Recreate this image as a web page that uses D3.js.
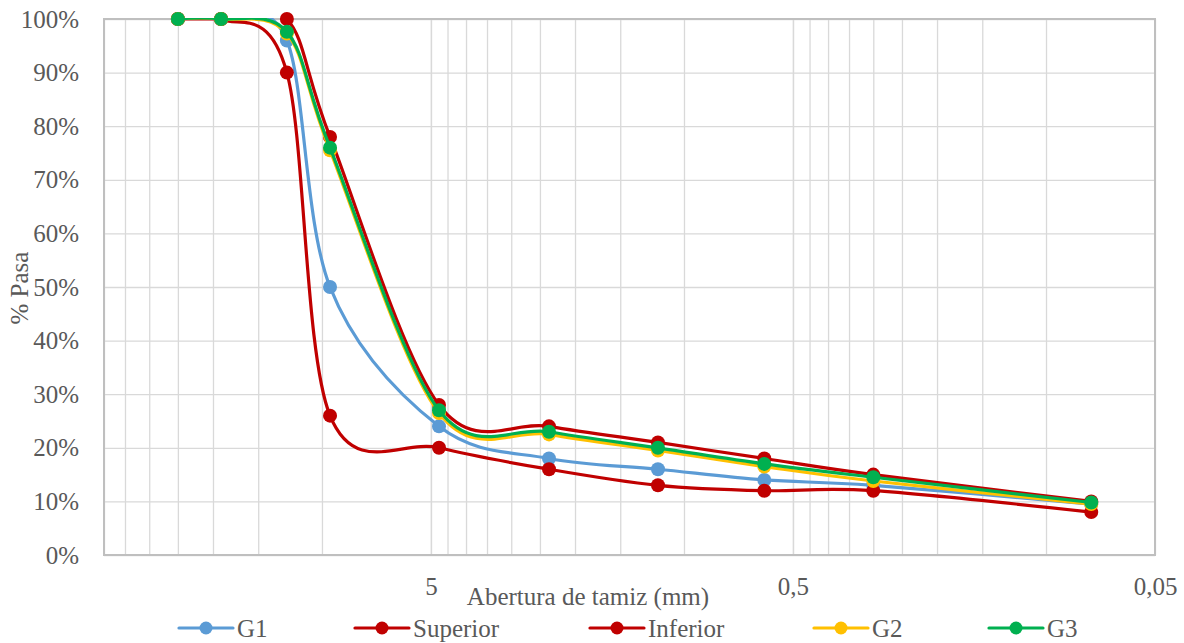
<!DOCTYPE html>
<html>
<head>
<meta charset="utf-8">
<script src="https://cdn.jsdelivr.net/npm/d3@7/dist/d3.min.js"></script>
<style>
body { margin: 0; background: #fff; }
svg { display: block; }
.grid line { stroke: #d9d9d9; stroke-width: 1.3; }
.grid path { display: none; }
.axis path, .axis line { display: none; }
</style>
</head>
<body>
<div id="chart"></div>
<script>
// tamices (mm) y % que pasa
var sizes = [25, 19, 12.5, 9.5, 4.75, 2.36, 1.18, 0.6, 0.3, 0.075];
var g1 = [100, 100, 96, 50, 24, 18, 16, 14, 13, 9.5];
var superior = [100, 100, 100, 78, 28, 24, 21, 18, 15, 10];
var inferior = [100, 100, 90, 26, 20, 16, 13, 12, 12, 8];
var g2 = [100, 100, 97.3, 75.5, 26.5, 22.5, 19.5, 16.5, 13.8, 9.5];
var g3 = [100, 100, 97.6, 76, 27, 23, 20, 17, 14.5, 9.8];

var seriesNames = ["G1", "Superior", "Inferior", "G2", "G3"];
var seriesColors = ["#5b9bd5", "#c00000", "#c00000", "#ffc000", "#00b050"];
var xTicks = [5, 0.5, 0.05];
var yTicks = [0, 10, 20, 30, 40, 50, 60, 70, 80, 90, 100];

var FONT = "Liberation Serif, Times New Roman, serif";

var makeChart = function() {

	var W = 1184, H = 643;
	var plot = {left: 104, right: 1155, top: 19, bottom: 555};

	var svg = d3.select("#chart").append("svg")
		.attr("width", W)
		.attr("height", H)
		.attr("font-family", FONT);

	svg.append("rect").attr("width", W).attr("height", H).attr("fill", "#fff");

	var x = d3.scaleLog().domain([40, 0.05]).range([plot.left, plot.right]);
	var y = d3.scaleLinear().domain([0, 100]).range([plot.bottom, plot.top]);

	// minor gridlines of the log axis (multiples of each decade start)
	var gridVals = [];
	[0.05, 0.5, 5].forEach(function(base) {
		for (var k = 1; k <= 10; ++k) {
			var v = base * k;
			if (v <= 40) gridVals.push(v);
		}
	});

	svg.append("g")
	.attr("class", "grid")
	.attr("transform", "translate(0," + plot.bottom + ")")
	.call(d3.axisBottom(x)
		.tickValues(gridVals)
		.tickSize(-(plot.bottom - plot.top))
		.tickFormat("")
	);

	svg.append("g")
	.attr("class", "grid")
	.attr("transform", "translate(" + plot.left + ",0)")
	.call(d3.axisLeft(y)
		.tickValues(yTicks)
		.tickSize(-(plot.right - plot.left))
		.tickFormat("")
	);

	// plot frame
	svg.append("rect")
	.attr("x", plot.left)
	.attr("y", plot.top)
	.attr("width", plot.right - plot.left)
	.attr("height", plot.bottom - plot.top)
	.attr("fill", "none")
	.attr("stroke", "#bfbfbf")
	.attr("stroke-width", 2);

	var locale = d3.formatLocale({decimal: ",", thousands: ".", grouping: [3], currency: ["", ""]});
	var fmt = locale.format("~g");

	var xAxis = svg.append("g")
	.attr("class", "axis")
	.attr("transform", "translate(0," + plot.bottom + ")")
	.call(d3.axisBottom(x)
		.tickValues(xTicks)
		.tickSize(0)
		.tickPadding(22)
		.tickFormat(function(d) { return fmt(d); })
	);

	var yAxis = svg.append("g")
	.attr("class", "axis")
	.attr("transform", "translate(" + plot.left + ",0)")
	.call(d3.axisLeft(y)
		.tickValues(yTicks)
		.tickSize(0)
		.tickPadding(25)
		.tickFormat(function(d) { return d + "%"; })
	);

	[xAxis, yAxis].forEach(function(a) {
		a.attr("font-family", FONT).attr("font-size", 25);
		a.selectAll("text").attr("fill", "#595959");
	});

	// axis titles
	svg.append("text")
	.attr("x", 588)
	.attr("y", 605)
	.attr("text-anchor", "middle")
	.attr("fill", "#595959")
	.attr("font-size", 25)
	.text("Abertura de tamiz (mm)");

	svg.append("text")
	.attr("transform", "translate(28,288) rotate(-90)")
	.attr("text-anchor", "middle")
	.attr("fill", "#595959")
	.attr("font-size", 25)
	.text("% Pasa");

	svg.append("clipPath").attr("id", "clip")
	.append("rect")
	.attr("x", plot.left)
	.attr("y", plot.top - 1)
	.attr("width", plot.right - plot.left)
	.attr("height", plot.bottom - plot.top + 1);

	var allSeries = [g1, superior, inferior, g2, g3];
	var line = d3.line()
		.x(function(d) { return x(d[0]); })
		.y(function(d) { return y(d[1]); })
		.curve(d3.curveCardinal.tension(0));

	var data = allSeries.map(function(vals, i) {
		return {
			name: seriesNames[i],
			color: seriesColors[i],
			pts: sizes.map(function(s, j) { return [s, vals[j]]; })
		};
	});

	var gs = svg.append("g").selectAll("g")
	.data(data)
	.enter().append("g");

	gs.append("path")
	.attr("clip-path", "url(#clip)")
	.attr("d", function(d) { return line(d.pts); })
	.attr("fill", "none")
	.attr("stroke", function(d) { return d.color; })
	.attr("stroke-width", 3.2)
	.attr("stroke-linejoin", "round")
	.attr("stroke-linecap", "round");

	gs.selectAll("circle")
	.data(function(d) { return d.pts.map(function(p) { return {p: p, color: d.color}; }); })
	.enter().append("circle")
	.attr("cx", function(d) { return x(d.p[0]); })
	.attr("cy", function(d) { return y(d.p[1]); })
	.attr("r", 7)
	.attr("fill", function(d) { return d.color; });

	// legend
	var legendX = [179, 355, 590, 814, 989];
	var legend = svg.append("g").selectAll("g")
	.data(data)
	.enter().append("g")
	.attr("transform", function(d, i) { return "translate(" + legendX[i] + ",628)"; });

	legend.append("line")
	.attr("x1", 0).attr("x2", 54)
	.attr("stroke", function(d) { return d.color; })
	.attr("stroke-width", 3.2)
	.attr("stroke-linecap", "round");

	legend.append("circle")
	.attr("cx", 27)
	.attr("r", 6.5)
	.attr("fill", function(d) { return d.color; });

	legend.append("text")
	.attr("x", 58)
	.attr("y", 8.5)
	.attr("fill", "#595959")
	.attr("font-size", 25)
	.text(function(d) { return d.name; });
};

makeChart();
</script>
</body>
</html>
